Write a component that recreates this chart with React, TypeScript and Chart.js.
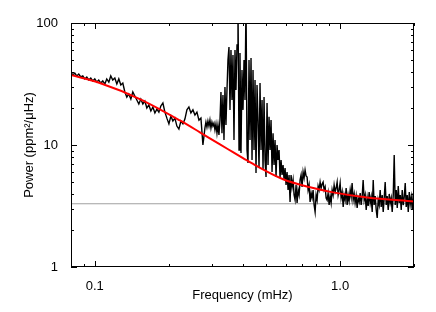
import { useEffect, useRef } from "react";
import { Chart, registerables } from "chart.js";

Chart.register(...registerables);

// Observed power spectrum (frequency in mHz, power in ppm^2/uHz)
const specFreq = [
  0.07982, 0.08133, 0.08288, 0.08445, 0.08605, 0.08769, 0.08935, 0.09104, 0.09277, 0.09453,
  0.09631, 0.09814, 0.1, 0.1019, 0.1038, 0.1058, 0.1078, 0.1099, 0.1119, 0.1141,
  0.1162, 0.1184, 0.1207, 0.123, 0.1253, 0.1277, 0.1301, 0.1326, 0.1351, 0.1376,
  0.1403, 0.1429, 0.1456, 0.1484, 0.1512,
  0.1541, 0.157, 0.16, 0.163, 0.1661, 0.1693, 0.1725, 0.1758, 0.1791, 0.1825,
  0.1859, 0.1895, 0.1931, 0.1967, 0.2005, 0.2043, 0.2081, 0.2121, 0.2161, 0.2202,
  0.2244, 0.2287, 0.233, 0.2374, 0.2419, 0.2465, 0.2512, 0.256, 0.2608, 0.2658,
  0.2708, 0.2759, 0.2812,
  0.2838, 0.2865, 0.2892, 0.292, 0.2947,
  0.2975, 0.3003, 0.3031, 0.306, 0.3089, 0.3118, 0.3148, 0.3177, 0.3207, 0.3238,
  0.3268, 0.3299, 0.333, 0.3362, 0.3393, 0.3425, 0.3458, 0.349, 0.3523, 0.3557,
  0.359, 0.3624, 0.3658, 0.3693, 0.3728, 0.3763, 0.3799, 0.3834, 0.3871, 0.3907,
  0.3944, 0.3981, 0.4019, 0.4057, 0.4095, 0.4134, 0.4173, 0.4212, 0.4252, 0.4292,
  0.4333, 0.4374, 0.4415, 0.4457, 0.4499, 0.4541, 0.4584, 0.4627, 0.4671, 0.4715,
  0.476, 0.4805, 0.485, 0.4896, 0.4942, 0.4989, 0.5036, 0.5083, 0.5131, 0.518,
  0.5229, 0.5278, 0.5328, 0.5378, 0.5429, 0.548, 0.5532, 0.5584, 0.5637, 0.569,
  0.5744, 0.5798, 0.5853, 0.5908, 0.5964, 0.602, 0.6077, 0.6135, 0.6192, 0.6251,
  0.631, 0.6369, 0.643, 0.649, 0.6552, 0.6613, 0.6676, 0.6739, 0.6803, 0.6867,
  0.6932, 0.6997, 0.7063, 0.713, 0.7197, 0.7265, 0.7334, 0.7403, 0.7473, 0.7544,
  0.7615, 0.7687, 0.7759, 0.7832, 0.7907, 0.7981, 0.8057, 0.8133, 0.8209, 0.8287,
  0.8365, 0.8444, 0.8524, 0.8604, 0.8686, 0.8768, 0.885, 0.8934, 0.9018, 0.9104,
  0.9189, 0.9276, 0.9364, 0.9452, 0.9542, 0.9632, 0.9723, 0.9814, 0.9907, 1.0,
  1.009, 1.019, 1.029, 1.038, 1.048, 1.058, 1.068, 1.078, 1.088, 1.099,
  1.109, 1.119, 1.13, 1.141, 1.151, 1.162, 1.173, 1.184, 1.196, 1.207,
  1.218, 1.23, 1.241, 1.253, 1.265, 1.277, 1.289, 1.301, 1.313, 1.326,
  1.338, 1.351, 1.364, 1.376, 1.39, 1.403, 1.416, 1.429, 1.443, 1.456,
  1.47, 1.484, 1.498, 1.512, 1.526, 1.541, 1.555, 1.57, 1.585, 1.6,
  1.615, 1.63, 1.646, 1.661, 1.677, 1.693, 1.709, 1.725, 1.741, 1.758,
  1.774, 1.791, 1.808, 1.825, 1.842, 1.859, 1.877, 1.895, 1.913, 1.931,
  1.949, 1.967, 1.986, 2.005,
];

const specPower = [
  39.7, 37.5, 38.9, 36.8, 38.2, 36.1, 36.8, 34.8, 36.1, 34.1,
  35.4, 33.5, 34.8, 32.8, 34.1, 32.2, 33.5, 31.6, 34.8, 32.8,
  36.8, 34.1, 35.4, 31.6, 34.8, 31.0, 32.2, 27.2, 24.7, 26.2,
  23.8, 27.2, 25.2, 23.4, 21.7,
  23.8, 21.7, 22.9, 20.1, 21.3, 19.0, 20.5, 18.3, 19.7, 18.6,
  20.9, 22.1, 18.6, 16.6, 14.9, 17.3, 15.7, 16.6, 14.3, 13.5,
  15.7, 14.9, 16.3, 19.4, 20.5, 18.3, 19.4, 17.6, 18.6, 16.0,
  16.6, 10.0, 13.8,
  15.4, 14.0, 15.7, 14.3, 16.0,
  13.8, 15.4, 14.3, 15.1, 13.3, 14.9, 12.5, 14.6, 12.1, 16.0,
  27.2, 12.5, 25.7, 11.0, 29.9, 14.6, 28.2, 49.7, 63.5, 19.4,
  60.0, 23.4, 54.7, 11.0, 60.0, 28.2, 66.0, 150, 9.1, 56.8,
  8.6, 41.2, 19.4, 49.7, 23.4, 150, 9.1, 7.12, 49.7, 11.0,
  51.6, 7.53, 41.2, 9.1, 34.1, 5.9, 31.0, 16.0, 6.48, 32.2,
  9.1, 23.4, 6.24, 24.7, 7.53, 5.47, 22.1, 6.86, 17.0, 9.1,
  16.0, 6.01, 12.5, 6.86, 11.0, 5.47, 10.0, 7.53, 9.1, 5.37,
  7.53, 5.68, 6.86, 5.17, 6.48, 4.7, 6.01, 4.28, 5.68, 3.41,
  5.68, 4.53, 5.17, 3.89, 3.54, 4.7, 3.35, 4.28, 3.89, 5.17,
  5.68, 4.53, 6.01, 5.37, 6.24, 5.57, 5.47, 4.28, 4.7, 3.41,
  4.04, 3.68, 4.28, 3.22, 2.82, 3.89, 3.54, 4.61, 4.28, 4.97,
  4.44, 4.79, 4.97, 4.28, 4.53, 3.68, 3.54, 4.04, 3.22, 3.82,
  3.35, 4.28, 3.89, 4.7, 4.12, 4.44, 4.97, 3.89, 4.28, 4.88,
  3.68, 4.12, 3.1, 3.89, 3.54, 4.44, 3.22, 3.89, 3.48, 4.28,
  3.75, 4.88, 3.54, 3.97, 3.35, 3.82, 3.05, 3.68, 3.41, 4.04,
  3.22, 3.82, 5.17, 3.54, 3.89, 2.93, 3.68, 3.16, 4.12, 3.35,
  3.75, 2.82, 5.17, 3.22, 3.82, 2.93, 2.52, 3.54, 3.22, 4.28,
  3.1, 3.89, 2.82, 3.68, 4.97, 3.22, 3.82, 2.93, 3.97, 3.35,
  3.68, 2.82, 3.89, 8.28, 3.22, 4.28, 3.05, 4.61, 3.35, 3.89,
  2.93, 4.28, 3.22, 3.75, 4.88, 3.1, 3.89, 2.82, 4.12, 3.28,
  3.75, 2.93, 4.04, 3.22,
];

// Background fit (red)
const fitFreq = [0.0798, 0.1048, 0.1526, 0.2223, 0.2683, 0.3238, 0.3658, 0.4019, 0.4584, 0.5853, 0.7544, 0.9364, 1.289, 2.005];
const fitPower = [37.5, 32.2, 23.8, 15.9, 12.7, 10.1, 8.74, 7.81, 6.7, 5.24, 4.5, 4.09, 3.71, 3.44];

// White-noise level (grey)
const noiseFreq = [0.08, 2.0];
const noisePower = [3.3, 3.3];

// Axes
const xRange = [0.08, 2.0];
const yRange = [1, 100];
const xLabelTicks = [0.1, 1];
const yLabelTicks = [1, 10, 100];
const xMinorTicks = [0.09, 0.2, 0.3, 0.4, 0.5, 0.6, 0.7, 0.8, 0.9, 2];
const yMinorTicks = [2, 3, 4, 5, 6, 7, 8, 9, 20, 30, 40, 50, 60, 70, 80, 90];

const frameTicks = {
  id: "frameTicks",
  afterDraw(chart: any) {
    const { ctx, chartArea: a, scales } = chart;
    const xs = scales.x;
    const ys = scales.y;
    ctx.save();
    ctx.strokeStyle = "#000";
    ctx.lineWidth = 1;
    ctx.strokeRect(a.left + 0.5, a.top + 0.5, a.right - a.left - 1, a.bottom - a.top - 1);
    ctx.beginPath();
    const xt = (v: number, len: number) => {
      const p = Math.round(xs.getPixelForValue(v)) + 0.5;
      ctx.moveTo(p, a.bottom);
      ctx.lineTo(p, a.bottom - len);
      ctx.moveTo(p, a.top);
      ctx.lineTo(p, a.top + len);
    };
    const yt = (v: number, len: number) => {
      const p = Math.round(ys.getPixelForValue(v)) + 0.5;
      ctx.moveTo(a.left, p);
      ctx.lineTo(a.left + len, p);
      ctx.moveTo(a.right, p);
      ctx.lineTo(a.right - len, p);
    };
    xLabelTicks.forEach((v) => xt(v, 6));
    xMinorTicks.forEach((v) => xt(v, 3));
    yLabelTicks.forEach((v) => yt(v, 6));
    yMinorTicks.forEach((v) => yt(v, 3));
    ctx.stroke();
    ctx.restore();
  },
};

export default function App() {
  const ref = useRef<HTMLCanvasElement>(null);

  useEffect(() => {
    const canvas = ref.current;
    if (!canvas) return;
    Chart.defaults.font.family = "'Liberation Sans', Arial, Helvetica, sans-serif";
    Chart.defaults.color = "#000";

    const chart = new Chart(canvas, {
      type: "line",
      data: {
        datasets: [
          {
            label: "fit",
            data: fitFreq.map((f, i) => ({ x: f, y: fitPower[i] })),
            borderColor: "#ff0000",
            borderWidth: 2,
            pointRadius: 0,
            cubicInterpolationMode: "monotone",
            fill: false,
            order: 0,
          },
          {
            label: "spectrum",
            data: specFreq.map((f, i) => ({ x: f, y: specPower[i] })),
            borderColor: "#000000",
            borderWidth: 1.4,
            pointRadius: 0,
            tension: 0,
            fill: false,
            order: 1,
          },
          {
            label: "noise",
            data: noiseFreq.map((f, i) => ({ x: f, y: noisePower[i] })),
            borderColor: "#a0a0a0",
            borderWidth: 1.2,
            pointRadius: 0,
            fill: false,
            order: 2,
          },
        ],
      },
      options: {
        animation: false,
        responsive: false,
        layout: { padding: { left: 0, right: 22, top: 23, bottom: 0 } },
        plugins: { legend: { display: false }, tooltip: { enabled: false } },
        scales: {
          x: {
            type: "logarithmic",
            position: "bottom",
            min: xRange[0],
            max: xRange[1],
            grid: { display: false },
            border: { display: false },
            afterBuildTicks: (s: any) => {
              s.ticks = xLabelTicks.map((v) => ({ value: v }));
            },
            afterFit: (s: any) => {
              s.height = 45;
            },
            ticks: {
              autoSkip: false,
              maxRotation: 0,
              padding: 4,
              color: "#000",
              font: { size: 13 },
              callback: (v: any) => (Math.abs(Number(v) - 1) < 1e-9 ? "1.0" : "0.1"),
            },
            title: {
              display: true,
              text: "Frequency (mHz)",
              color: "#000",
              font: { size: 13 },
              padding: { top: 0, bottom: 9 },
            },
          },
          y: {
            type: "logarithmic",
            position: "left",
            min: yRange[0],
            max: yRange[1],
            grid: { display: false },
            border: { display: false },
            afterBuildTicks: (s: any) => {
              s.ticks = yLabelTicks.map((v) => ({ value: v }));
            },
            afterFit: (s: any) => {
              s.width = 71;
            },
            ticks: {
              autoSkip: false,
              padding: 5,
              color: "#000",
              font: { size: 13 },
              callback: (v: any) => String(Math.round(Number(v))),
            },
            title: {
              display: true,
              text: "Power (ppm²/μHz)",
              color: "#000",
              font: { size: 13 },
              padding: { top: 22, bottom: 0 },
            },
          },
        },
      } as any,
      plugins: [frameTicks],
    });
    return () => chart.destroy();
  }, []);

  return (
    <div style={{ position: "fixed", left: 0, top: 0, width: 436, height: 312, background: "#fff" }}>
      <canvas ref={ref} width={436} height={312} style={{ display: "block", width: 436, height: 312 }} />
    </div>
  );
}
